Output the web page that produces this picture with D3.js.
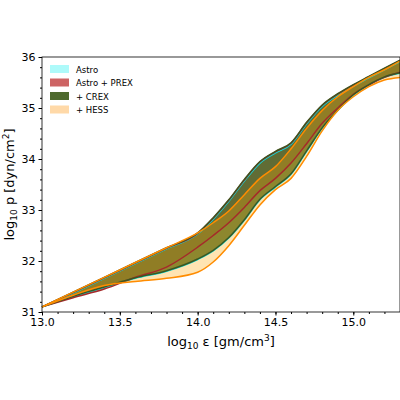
<!DOCTYPE html><html><head><script src="https://cdn.jsdelivr.net/npm/d3@7"></script>
<style>body{margin:0;background:#fff}text{font-family:"DejaVu Sans",sans-serif}</style></head><body>
<svg id="c" width="400" height="400"></svg>
<script>
const xs=[13.0,13.2,13.4,13.6,13.8,14.0,14.1,14.2,14.3,14.4,14.5,14.6,14.7,14.8,14.9,15.0,15.1,15.2,15.3];
const astroLo=[31.1,31.3,31.48,31.66,31.8,32.03,32.2,32.45,32.8,33.2,33.45,33.7,34.15,34.6,34.95,35.25,35.45,35.6,35.68];
const astroHi=[31.1,31.37,31.66,31.95,32.24,32.53,32.82,33.17,33.57,33.92,34.12,34.29,34.69,35.03,35.25,35.43,35.59,35.75,35.91];
const prexLo=[31.1,31.28,31.45,31.68,31.88,32.27,32.5,32.75,33.05,33.38,33.62,33.92,34.3,34.7,35.0,35.27,35.45,35.6,35.7];
const prexHi=[31.1,31.38,31.67,31.96,32.25,32.54,32.84,33.19,33.59,33.94,34.14,34.31,34.71,35.05,35.27,35.45,35.61,35.77,35.93];
const crexLo=[31.1,31.31,31.49,31.67,31.81,32.04,32.21,32.46,32.81,33.21,33.46,33.71,34.16,34.61,34.96,35.26,35.46,35.61,35.69];
const crexHi=[31.1,31.39,31.68,31.97,32.26,32.55,32.85,33.2,33.6,33.95,34.15,34.32,34.72,35.06,35.28,35.46,35.62,35.78,35.94];
const hessLo=[31.1,31.33,31.52,31.6,31.66,31.78,31.98,32.3,32.7,33.1,33.4,33.62,34.05,34.55,34.95,35.22,35.42,35.55,35.6];
const hessHi=[31.1,31.39,31.68,31.97,32.26,32.55,32.75,32.98,33.3,33.62,33.85,34.2,34.6,34.95,35.22,35.42,35.6,35.75,35.92];
const labels=["Astro","Astro + PREX","+ CREX","+ HESS"];
const svg=d3.select("#c");
const L=42,R=400,T=57,B=312;
const x=d3.scaleLinear().domain([13.0,15.3]).range([L,R]);
const y=d3.scaleLinear().domain([31,36]).range([B,T]);
const g=svg.append("g");
const bands=[
 {lo:astroLo,hi:astroHi,fill:"#7ff8f8",fo:0.8,edge:"#00e5e5"},
 {lo:prexLo,hi:prexHi,fill:"#c85a5a",fo:0.85,edge:"#a52a2a"},
 {lo:crexLo,hi:crexHi,fill:"#556b2f",fo:0.9,edge:"#3e5520"},
 {lo:hessLo,hi:hessHi,fill:"orange",fo:0.3,edge:"darkorange"}];
const area=d3.area().x((d,i)=>x(xs[i])).y0(d=>y(d[0])).y1(d=>y(d[1])).curve(d3.curveMonotoneX);
const line=d3.line().x((d,i)=>x(xs[i])).y(d=>y(d)).curve(d3.curveMonotoneX);
bands.forEach(b=>{
 const dd=b.lo.map((v,i)=>[v,b.hi[i]]);
 g.append("path").attr("d",area(dd)).attr("fill",b.fill).attr("fill-opacity",b.fo);
});
bands.forEach(b=>{
 [b.lo,b.hi].forEach(a=>g.append("path").attr("d",line(a)).attr("fill","none").attr("stroke",b.edge).attr("stroke-width",1.5));
});
svg.append("rect").attr("x",L).attr("y",T).attr("width",R-L).attr("height",B-T).attr("fill","none").attr("stroke","#000").attr("stroke-width",0.8);
const xa=svg.append("g").attr("transform",`translate(0,${B})`).call(d3.axisBottom(x).tickValues([13,13.5,14,14.5,15]).tickFormat(d3.format(".1f")).tickSize(3.5));
const xm=svg.append("g").attr("transform",`translate(0,${B})`).call(d3.axisBottom(x).tickValues(d3.range(13,15.31,0.1)).tickFormat("").tickSize(2));
const ya=svg.append("g").attr("transform",`translate(${L},0)`).call(d3.axisLeft(y).tickValues([31,32,33,34,35,36]).tickFormat(d3.format("d")).tickSize(3.5));
const ym=svg.append("g").attr("transform",`translate(${L},0)`).call(d3.axisLeft(y).tickValues(d3.range(31,36.01,0.2)).tickFormat("").tickSize(2));
[xa,xm,ya,ym].forEach(a=>{a.select(".domain").remove();a.selectAll("text").attr("font-size",11).attr("fill","#000").style("font-family","DejaVu Sans");});
const xl=svg.append("text").attr("x",(L+R)/2).attr("y",346).attr("text-anchor","middle").attr("font-size",13);
xl.append("tspan").text("log");xl.append("tspan").text("10").attr("font-size",9).attr("dy",3);xl.append("tspan").text(" ε [gm/cm").attr("dy",-3);xl.append("tspan").text("3").attr("font-size",9).attr("dy",-5);xl.append("tspan").text("]").attr("dy",5);
const yl=svg.append("text").attr("transform",`translate(14,${(T+B)/2}) rotate(-90)`).attr("text-anchor","middle").attr("font-size",13);
yl.append("tspan").text("log");yl.append("tspan").text("10").attr("font-size",9).attr("dy",3);yl.append("tspan").text(" p [dyn/cm").attr("dy",-3);yl.append("tspan").text("2").attr("font-size",9).attr("dy",-5);yl.append("tspan").text("]").attr("dy",5);
const lc=["#aefafa","#cd6464","#4e6a2e","#ffd9a8"];
labels.forEach((t,i)=>{const yy=69+i*13.5;
 svg.append("rect").attr("x",50).attr("y",yy-4).attr("width",19).attr("height",8).attr("fill",lc[i]);
 svg.append("text").attr("x",76).attr("y",yy+3.5).attr("font-size",8.5).text(t);});
</script></body></html>
